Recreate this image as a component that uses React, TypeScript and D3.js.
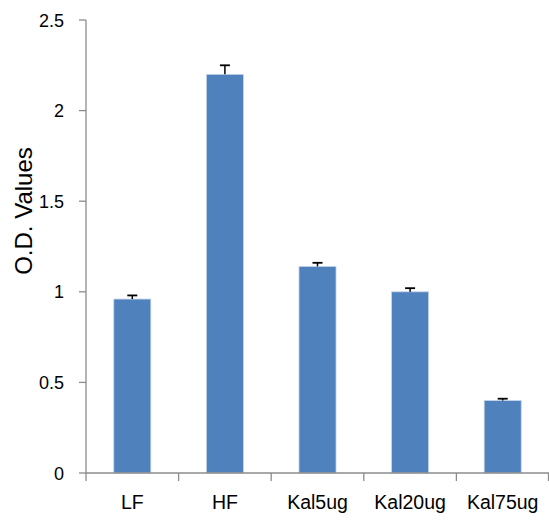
import React from "react";
import * as d3 from "d3";

const categories = ["LF", "HF", "Kal5ug", "Kal20ug", "Kal75ug"];
const values = [0.96, 2.2, 1.14, 1.0, 0.4];
const errors = [0.02, 0.05, 0.02, 0.02, 0.01];
const yTicks = [0, 0.5, 1, 1.5, 2, 2.5];

export default function App() {
  const W = 549, H = 522;
  const x0 = 86, x1 = 549, yTop = 20, yBot = 473;
  const x = d3.scaleBand<string>().domain(categories).range([x0, x1]).padding(0);
  const y = d3.scaleLinear().domain([0, 2.5]).range([yBot, yTop]);
  const bw = x.bandwidth() * 0.4;
  const axisColor = "#8c8c8c";
  const font = "'Liberation Sans', Arial, sans-serif";
  return (
    <svg width={W} height={H} style={{ position: "absolute", left: 0, top: 0, background: "#fff" }}>
      {categories.map((c, i) => {
        const cx = (x(c) as number) + x.bandwidth() / 2;
        const top = y(values[i]);
        const et = y(values[i] + errors[i]);
        return (
          <g key={c}>
            <rect x={cx - bw / 2} y={top} width={bw} height={yBot - top} fill="#4f81bd" stroke="#c6d5ea" strokeWidth={0.8} />
            <line x1={cx} x2={cx} y1={top} y2={et} stroke="#000" strokeWidth={1.5} />
            <line x1={cx - 5} x2={cx + 5} y1={et} y2={et} stroke="#000" strokeWidth={1.8} />
            <text x={cx} y={509} textAnchor="middle" fontFamily={font} fontSize={19.5} fill="#000">{c}</text>
          </g>
        );
      })}
      <line x1={x0} x2={x0} y1={yTop} y2={yBot} stroke={axisColor} strokeWidth={1.3} />
      <line x1={x0} x2={x1} y1={yBot} y2={yBot} stroke={axisColor} strokeWidth={1.3} />
      {yTicks.map((t) => (
        <g key={t}>
          <line x1={x0 - 7} x2={x0} y1={y(t)} y2={y(t)} stroke={axisColor} strokeWidth={1.3} />
          <text x={64} y={y(t) + 6.5} textAnchor="end" fontFamily={font} fontSize={18} fill="#000">{t}</text>
        </g>
      ))}
      {categories.map((c) => (
        <line key={"t" + c} x1={x(c) as number} x2={x(c) as number} y1={yBot} y2={yBot + 8} stroke={axisColor} strokeWidth={1.3} />
      ))}
      <line x1={x1 - 0.5} x2={x1 - 0.5} y1={yBot} y2={yBot + 8} stroke={axisColor} strokeWidth={1.3} />
      <text transform={`translate(32,211) rotate(-90)`} textAnchor="middle" fontFamily={font} fontSize={24} fill="#000">O.D. Values</text>
    </svg>
  );
}
